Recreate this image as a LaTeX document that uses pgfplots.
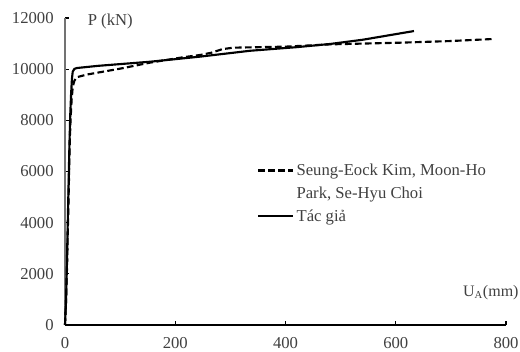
\documentclass[border=0pt]{standalone}
\usepackage{fontspec}
\setmainfont{Liberation Serif}
\usepackage{pgfplots}
\pgfplotsset{compat=1.18}
\begin{document}
\begin{tikzpicture}
\begin{axis}[
  at={(48.75pt,19.5pt)}, anchor=south west,
  scale only axis, width=330.75pt, height=230.25pt,
  xmin=0, xmax=800, ymin=0, ymax=12000,
  axis x line=bottom, axis y line=left,
  x axis line style={-, black, line width=1.1pt},
  y axis line style={-, black!55, line width=1.4pt},
  xtick={0,200,400,600,800},
  ytick={0,2000,4000,6000,8000,10000,12000},
  tick align=inside, major tick length=3pt,
  tick style={black, line width=0.8pt},
  scaled ticks=false,
  /pgf/number format/assume math mode=true,
  /pgf/number format/1000 sep={},
  tick label style={font=\fontsize{12.5}{14}\selectfont, text=black!75},
  xticklabel style={yshift=-5.5pt},
  yticklabel style={xshift=-5pt},
  clip=false,
  legend style={at={(0.435,0.535)}, anchor=north west, draw=none, fill=none,
    font=\fontsize{12.5}{14}\selectfont, text=black!75,
    cells={anchor=west}, row sep=3pt, inner sep=0pt},
  legend image code/.code={\draw[#1] (0pt,0pt) -- (26pt,0pt);},
]
\addplot[black, line width=1.6pt, dash pattern=on 5pt off 2.5pt] coordinates {
(0,0) (2,1000) (4,2500) (5.5,4000) (7,5500) (8.5,7000) (10,8000) (12,8800)
(14,9300) (17,9550) (22,9690) (40,9790) (100,10020) (154,10254) (214,10465)
(245,10554) (265,10640) (285,10780) (305,10840) (400,10880) (481,10970)
(608,11035) (700,11100) (777,11180)
};
\addlegendentry{Seung-Eock Kim, Moon-Ho}
\addlegendimage{empty legend}
\addlegendentry{Park, Se-Hyu Choi}
\addplot[black, line width=1.6pt] coordinates {
(0,0) (2,1000) (3.5,2500) (5,4000) (6.5,5500) (8,7000) (9.5,8200) (11,9000)
(12.5,9600) (14,9900) (17,10010) (22,10046) (60,10130) (154,10290)
(245,10490) (336,10720) (420,10860) (481,10985) (540,11150) (633,11490)
};
\addlegendentry{Tác giả}
\node[anchor=west, font=\fontsize{12.5}{14}\selectfont, text=black!75] at (rel axis cs:0.041,0.987) {P (kN)};
\node[anchor=west, font=\fontsize{12}{14}\selectfont, text=black!75, inner sep=0pt] at (rel axis cs:0.902,0.107) {U\textsubscript{A}(mm)};
\end{axis}
\pgfresetboundingbox
\path[use as bounding box] (0pt,0pt) rectangle (390pt,263.25pt);
\end{tikzpicture}
\end{document}
